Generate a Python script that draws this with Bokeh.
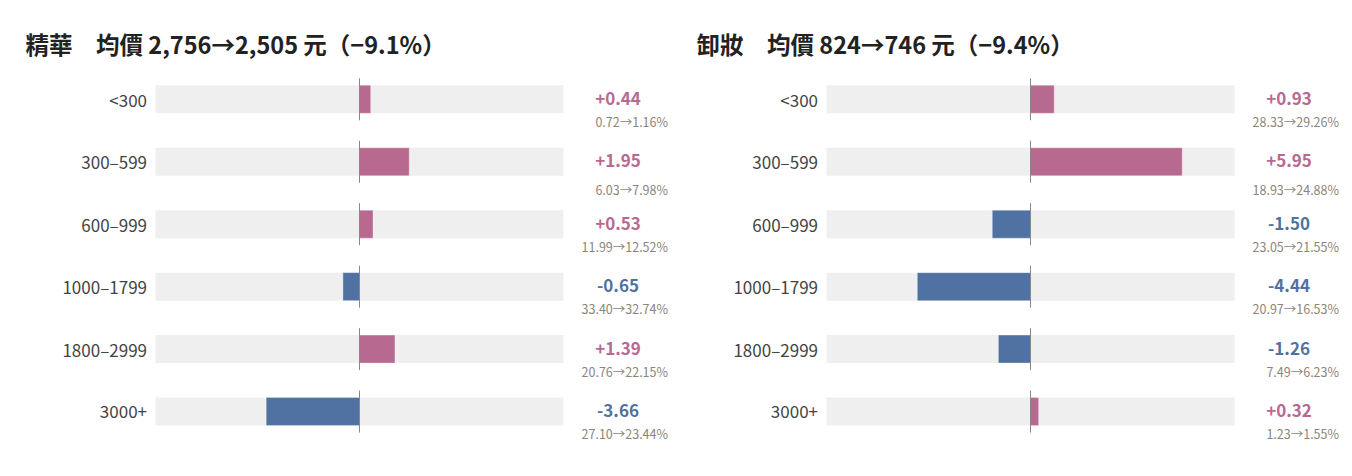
from bokeh.plotting import figure
from bokeh.layouts import row
from bokeh.models import Range1d, ColumnDataSource
from bokeh.core.properties import value
from bokeh.embed import file_html
from bokeh.resources import INLINE

# ---------------- data ----------------
categories = ["<300", "300–599", "600–999", "1000–1799", "1800–2999", "3000+"]

serum_name = "精華"
serum_avg_before = "2,756"
serum_avg_after = "2,505"
serum_avg_pct = "−9.1%"
serum_before = [0.72, 6.03, 11.99, 33.40, 20.76, 27.10]
serum_after = [1.16, 7.98, 12.52, 32.74, 22.15, 23.44]
serum_delta = [0.44, 1.95, 0.53, -0.65, 1.39, -3.66]

remover_name = "卸妝"
remover_avg_before = "824"
remover_avg_after = "746"
remover_avg_pct = "−9.4%"
remover_before = [28.33, 18.93, 23.05, 20.97, 7.49, 1.23]
remover_after = [29.26, 24.88, 21.55, 16.53, 6.23, 1.55]
remover_delta = [0.93, 5.95, -1.50, -4.44, -1.26, 0.32]

axis_limit = 8  # background track spans -8 .. +8 points

# ---------------- style / layout ----------------
FONT = "Noto Sans CJK TC"
PINK = "#b8698f"
BLUE = "#4f72a2"
TRACK = "#efefef"
W, H = 671, 468
PX_PER_UNIT = 25.5
CENTER_PX = 359
ROW0_PX = 98.8
ROW_STEP = 62.45
BAR_H_PX = 28


def xd(px):
    return (px - CENTER_PX) / PX_PER_UNIT


def yd(px):
    return (px - ROW0_PX) / ROW_STEP


def panel(name, avg_b, avg_a, pct, before, after, delta):
    p = figure(width=W, height=H, output_backend="svg", toolbar_location=None,
               x_range=Range1d(xd(0), xd(W)), y_range=Range1d(yd(H), yd(0)),
               min_border=0)
    p.axis.visible = False
    p.grid.visible = False
    p.outline_line_color = None
    p.background_fill_color = "white"
    p.border_fill_color = "white"

    n = len(categories)
    idx = list(range(n))
    colors = [PINK if d >= 0 else BLUE for d in delta]
    src = ColumnDataSource(dict(
        y=idx,
        cat=categories,
        left=[min(0, d) for d in delta],
        right=[max(0, d) for d in delta],
        color=colors,
        dtxt=[f"{d:+.2f}" for d in delta],
        stxt=[f"{b:.2f}→{a:.2f}%" for b, a in zip(before, after)],
        soff=[28 if c == "300–599" else 22 for c in categories],
    ))
    bh = BAR_H_PX / ROW_STEP
    p.hbar(y="y", left=-axis_limit, right=axis_limit, height=bh, source=src,
           fill_color=TRACK, line_color=None)
    p.hbar(y="y", left="left", right="right", height=bh, source=src,
           fill_color="color", line_color="white", line_alpha=0.35, line_width=1)
    half = 21 / ROW_STEP
    p.segment(x0=0, x1=0, y0=[i - half for i in idx], y1=[i + half for i in idx],
              line_color="#888888", line_width=1)

    p.text(x=xd(146.5), y="y", text="cat", source=src, text_align="right",
           text_baseline="middle", text_font=value(FONT), text_font_size="17px",
           text_color="#444444")
    p.text(x=xd(617.5), y="y", text="dtxt", source=src, text_align="center",
           text_baseline="middle", text_font=value(FONT), text_font_size="17px",
           text_font_style="bold", text_color="color", y_offset=-1)
    p.text(x=xd(667.5), y="y", text="stxt", source=src, text_align="right",
           text_baseline="middle", text_font=value(FONT), text_font_size="12.5px",
           text_color="#8c857a", y_offset="soff")

    title = f"{name}\u3000均價 {avg_b}→{avg_a} 元（{pct}）"
    p.text(x=[xd(25)], y=[yd(43)], text=[title], text_align="left",
           text_baseline="middle", text_font=value(FONT),
           text_font_size="23.5px", text_font_style="bold", text_color="#222222")
    return p


p1 = panel(serum_name, serum_avg_before, serum_avg_after, serum_avg_pct,
           serum_before, serum_after, serum_delta)
p2 = panel(remover_name, remover_avg_before, remover_avg_after, remover_avg_pct,
           remover_before, remover_after, remover_delta)

layout = row(p1, p2)
open("out.html", "w").write(file_html(layout, INLINE))
